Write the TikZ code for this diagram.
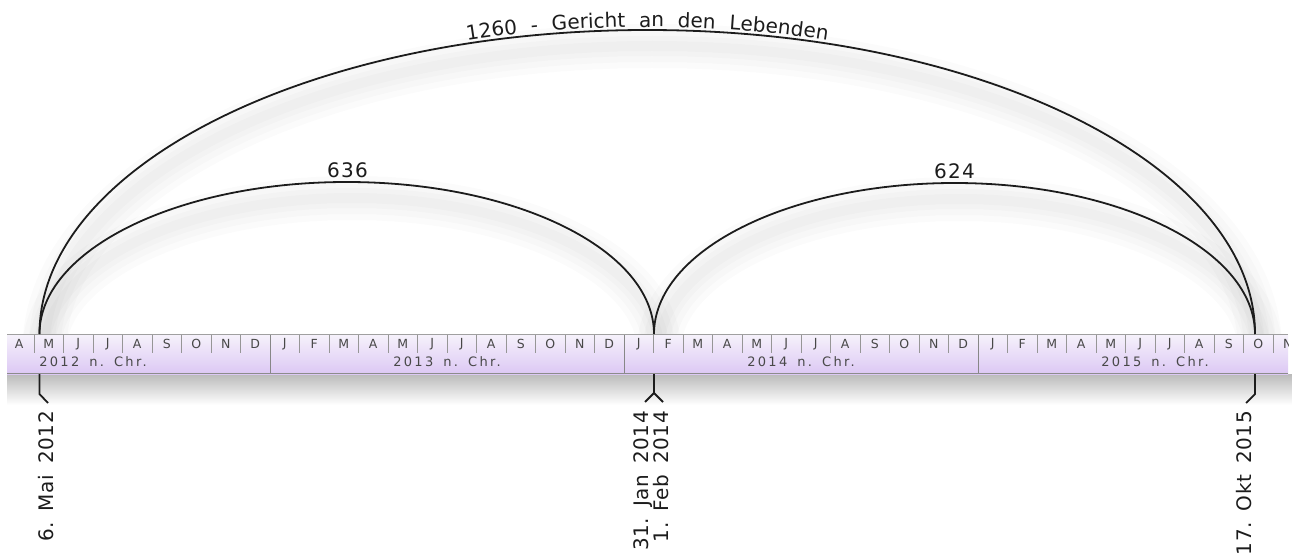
\documentclass[tikz,border=0pt]{standalone}
\usepackage{fontspec}
\setmainfont{DejaVu Sans}
\newfontfamily\datefont[LetterSpace=3]{DejaVu Sans}
\newfontfamily\arcfont[LetterSpace=6,WordSpace=1.8]{DejaVu Sans}
\newfontfamily\yearfont[LetterSpace=18]{DejaVu Sans}
\newfontfamily\monthfont{DejaVu Sans}
\usetikzlibrary{decorations.text}
\definecolor{bandtop}{RGB}{246,242,251}
\definecolor{bandbot}{RGB}{220,200,244}
\definecolor{tickgray}{RGB}{150,150,150}
\definecolor{txtgray}{RGB}{72,72,72}
\definecolor{ink}{RGB}{28,28,28}
\definecolor{bordergray}{RGB}{160,160,160}
\newcommand{\monthletter}[1]{\ifcase#1 J\or F\or M\or A\or M\or J\or J\or A\or S\or O\or N\or D\fi}
\newcommand{\dsp}{\hspace{11pt}}
\newcommand{\ysp}{\hspace{10pt}}
\tikzset{
  arcline/.style={draw=ink, line width=1.8pt},
  arcshadow/.style={draw=black, opacity=0.016},
  arclabel/.style={font=\arcfont\fontsize{20}{24}\selectfont, text=ink, inner sep=0pt},
  datelabel/.style={font=\datefont\fontsize{20}{20}\selectfont, text=ink, inner sep=0pt, rotate=90, anchor=east, align=right},
  monthlabel/.style={font=\monthfont\fontsize{12.5}{14}\selectfont, text=txtgray, inner sep=0pt},
  yearlabel/.style={font=\yearfont\fontsize{13}{15}\selectfont, text=txtgray, inner sep=0pt},
  monthtick/.style={draw=tickgray, line width=0.9pt},
  yeartick/.style={draw=tickgray!90!black, line width=1pt},
  stem/.style={draw=ink, line width=1.8pt}
}
\begin{document}
\begin{tikzpicture}[x=1pt,y=-1pt]
\useasboundingbox (0,0) rectangle (1292,559);
% endpoints
\coordinate (d1) at (39.5,334);
\coordinate (d2) at (654,334);
\coordinate (d3) at (1255,334);
% faint arc shadows
\begin{scope}[shift={(5,16)}]
\foreach \w in {44,32,20,10}{
  \path[arcshadow, line width=\w pt] (39.5,334) arc[start angle=180,end angle=0,x radius=607.75pt,y radius=304pt];
  \path[arcshadow, line width=\w pt] (39.5,334) arc[start angle=180,end angle=0,x radius=307.25pt,y radius=152pt];
  \path[arcshadow, line width=\w pt] (654,334) arc[start angle=180,end angle=0,x radius=300.5pt,y radius=151pt];
}
\end{scope}
% band shadow
\shade[top color=black!27, bottom color=white] (7,374) rectangle (1292,405);
% band
\shade[top color=bandtop, bottom color=bandbot] (7,334) rectangle (1288,374);
\begin{scope}
\clip (7,334) rectangle (1288,374);
\foreach \i in {3,...,46}{
  \pgfmathsetmacro\xl{-84+29.5*\i}
  \pgfmathtruncatemacro\k{mod(\i,12)}
  \node[monthlabel] (m\i) at (\xl+14.75,344) {\monthletter{\k}};
  \ifnum\k=0
    \draw[yeartick] (\xl,334) -- (\xl,374);
  \else
    \draw[monthtick] (\xl,334) -- (\xl,353);
  \fi
}
\foreach \y [count=\j from 0] in {2012,2013,2014,2015}{
  \node[yearlabel] (y\y) at (-84+354*\j+177,361.5) {\y\ysp n.\ysp Chr.};
}
\end{scope}
\draw[bordergray, line width=1pt] (7,334.5) -- (1288,334.5);
\draw[black!45, line width=1pt] (7,373.5) -- (1288,373.5);
% arcs
\draw[arcline] (d1) arc[start angle=180,end angle=0,x radius=607.75pt,y radius=304pt] coordinate (e1);
\draw[arcline] (d1) arc[start angle=180,end angle=0,x radius=307.25pt,y radius=152pt] coordinate (e2);
\draw[arcline] (d2) arc[start angle=180,end angle=0,x radius=300.5pt,y radius=151pt] coordinate (e3);
\path[postaction={decorate,decoration={text along path,text align=center,raise=3pt,text color=ink,
  text={|\arcfont\fontsize{20}{24}\selectfont|1260 - Gericht an den Lebenden}}}]
  (d1) arc[start angle=180,end angle=0,x radius=607.75pt,y radius=304pt];
\node[arclabel, anchor=base] (l636) at (347.5,177) {636};
\node[arclabel, anchor=base] (l624) at (954.5,178) {624};
% date markers
\coordinate (s1) at (39.5,374);
\coordinate (s1b) at (39.5,394);
\coordinate (s1c) at (48,403);
\draw[stem, line join=miter] (s1) -- (s1b) -- (s1c);
\coordinate (s2) at (654,374);
\coordinate (s2b) at (654,393);
\coordinate (s2l) at (645,402);
\coordinate (s2r) at (663,402);
\draw[stem] (s2) -- (s2b);
\draw[stem] (s2l) -- (s2b) -- (s2r);
\coordinate (s3) at (1255,374);
\coordinate (s3b) at (1255,394);
\coordinate (s3c) at (1246,403);
\draw[stem] (s3) -- (s3b) -- (s3c);
\node[datelabel] (t1) at (46.5,411) {6.\dsp Mai\dsp 2012};
\node[datelabel] (t2) at (651,411) {31.\dsp Jan\dsp 2014\\1.\dsp Feb\dsp 2014};
\node[datelabel] (t3) at (1244.5,411) {17.\dsp Okt\dsp 2015};
\end{tikzpicture}
\end{document}
